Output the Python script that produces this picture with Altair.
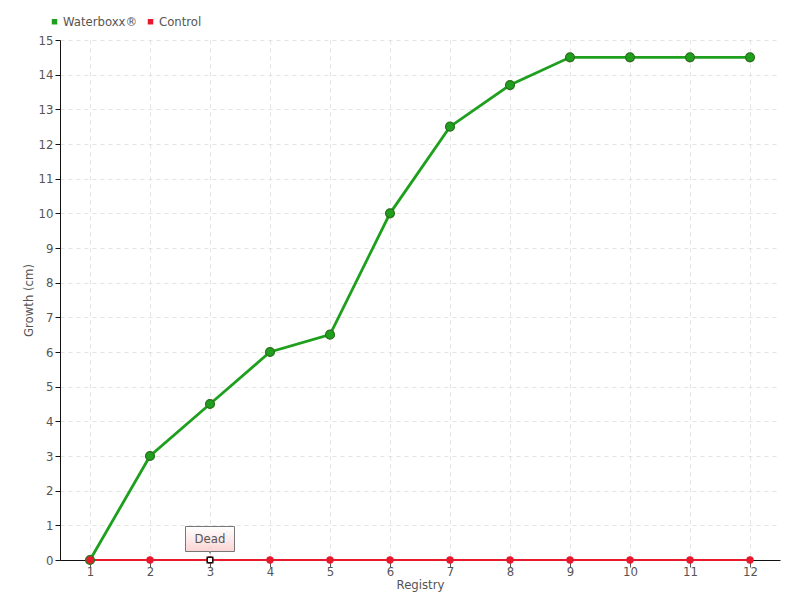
import altair as alt
import pandas as pd

registry = list(range(1, 13))
waterboxx = [0, 3, 4.5, 6, 6.5, 10, 12.5, 13.7, 14.5, 14.5, 14.5, 14.5]
control = [0] * 12
series_names = ["Waterboxx®", "Control"]
series_colors = ["#1ea01e", "#e8192c"]
note_registry = [3]
note_value = [0]
note_text = ["Dead"]

rows = []
for r, v in zip(registry, waterboxx):
    rows.append({"Registry": r, "Growth": v, "Series": series_names[0]})
for r, v in zip(registry, control):
    rows.append({"Registry": r, "Growth": v, "Series": series_names[1]})
df = pd.DataFrame(rows)
note_df = pd.DataFrame({"Registry": note_registry, "Growth": note_value, "Text": note_text})

FONT = "DejaVu Sans Condensed, Roboto, sans-serif"

x_enc = alt.X("Registry:O", title="Registry",
              scale=alt.Scale(type="point", padding=0.5),
              axis=alt.Axis(labelAngle=0, grid=True, gridDash=[4, 4], gridColor="#e3e3e3",
                            tickColor="#555", tickSize=7, domainColor="#111", zindex=0,
                            labelColor="#555", titleColor="#555", labelFontSize=13,
                            titleFontSize=13, titleFontWeight="normal", titlePadding=0,
                            labelPadding=-2, labelFont=FONT, titleFont=FONT))
y_enc = alt.Y("Growth:Q", title="Growth (cm)",
              scale=alt.Scale(domain=[0, 15], nice=False),
              axis=alt.Axis(values=list(range(0, 16)), tickCount=16, labelOverlap=False,
                            grid=True, gridDash=[4, 4], zindex=0,
                            gridColor="#e3e3e3", tickColor="#111", tickSize=5,
                            domainColor="#111", labelColor="#555", titleColor="#555",
                            labelFontSize=13, titleFontSize=13, titleFontWeight="normal",
                            labelFont=FONT, titleFont=FONT, titlePadding=3, labelPadding=2))
color_enc = alt.Color("Series:N",
                      scale=alt.Scale(domain=series_names, range=series_colors),
                      legend=alt.Legend(title=None, orient="none", legendX=-12, legendY=-25,
                                        direction="horizontal", symbolType="square",
                                        symbolSize=30, labelFontSize=13, labelColor="#555",
                                        labelFont=FONT, columnPadding=6, symbolStrokeWidth=0,
                                        labelOffset=2))

base = alt.Chart(df).encode(x=x_enc, y=y_enc, color=color_enc)

ctrl = base.transform_filter(alt.datum.Series == series_names[1])
wbx = base.transform_filter(alt.datum.Series == series_names[0])

ctrl_line = ctrl.mark_line(strokeWidth=2.2)
ctrl_pts = ctrl.mark_circle(size=55, opacity=1)
wbx_line = wbx.mark_line(strokeWidth=2.8)
wbx_pts = wbx.mark_point(size=80, filled=True, opacity=1, stroke="#2e6e1a", strokeWidth=1.2)

note_base = alt.Chart(note_df).encode(x=alt.X("Registry:O"), y=alt.Y("Growth:Q"))
note_pt = note_base.mark_square(size=30, fill="white", stroke="#111", strokeWidth=1.5, opacity=1)
note_tri = note_base.mark_point(shape="triangle-down", size=60, filled=True, fill="white",
                                stroke="#888", strokeWidth=1, yOffset=-10, opacity=1)
note_box = note_base.mark_rect(width=49, height=25, yOffset=-21,
                               stroke="#777", strokeWidth=1,
                               fill=alt.LinearGradient(gradient="linear",
                                                       stops=[alt.GradientStop(color="#ffffff", offset=0),
                                                              alt.GradientStop(color="#fbd4d4", offset=1)],
                                                       x1=0, x2=0, y1=0, y2=1))
note_cover = note_base.mark_point(shape="triangle-down", size=40, filled=True, fill="#fbd6d6",
                                  strokeWidth=0, yOffset=-11, opacity=1)
note_txt = note_base.mark_text(yOffset=-21, fontSize=13, color="#555", font=FONT).encode(text="Text:N")

chart = alt.layer(wbx_line, ctrl_line, wbx_pts, ctrl_pts, note_pt, note_tri, note_box,
                  note_cover, note_txt).properties(
    width=720, height=520,
    autosize=alt.AutoSizeParams(type="none"),
    padding={"left": 52, "top": 32, "right": 12, "bottom": 40},
    view=alt.ViewBackground(stroke="transparent", strokeWidth=0),
).configure_view(strokeWidth=0, stroke="transparent").configure(font=FONT)

chart.save("out.html", embed_options={"renderer": "svg", "actions": False})
